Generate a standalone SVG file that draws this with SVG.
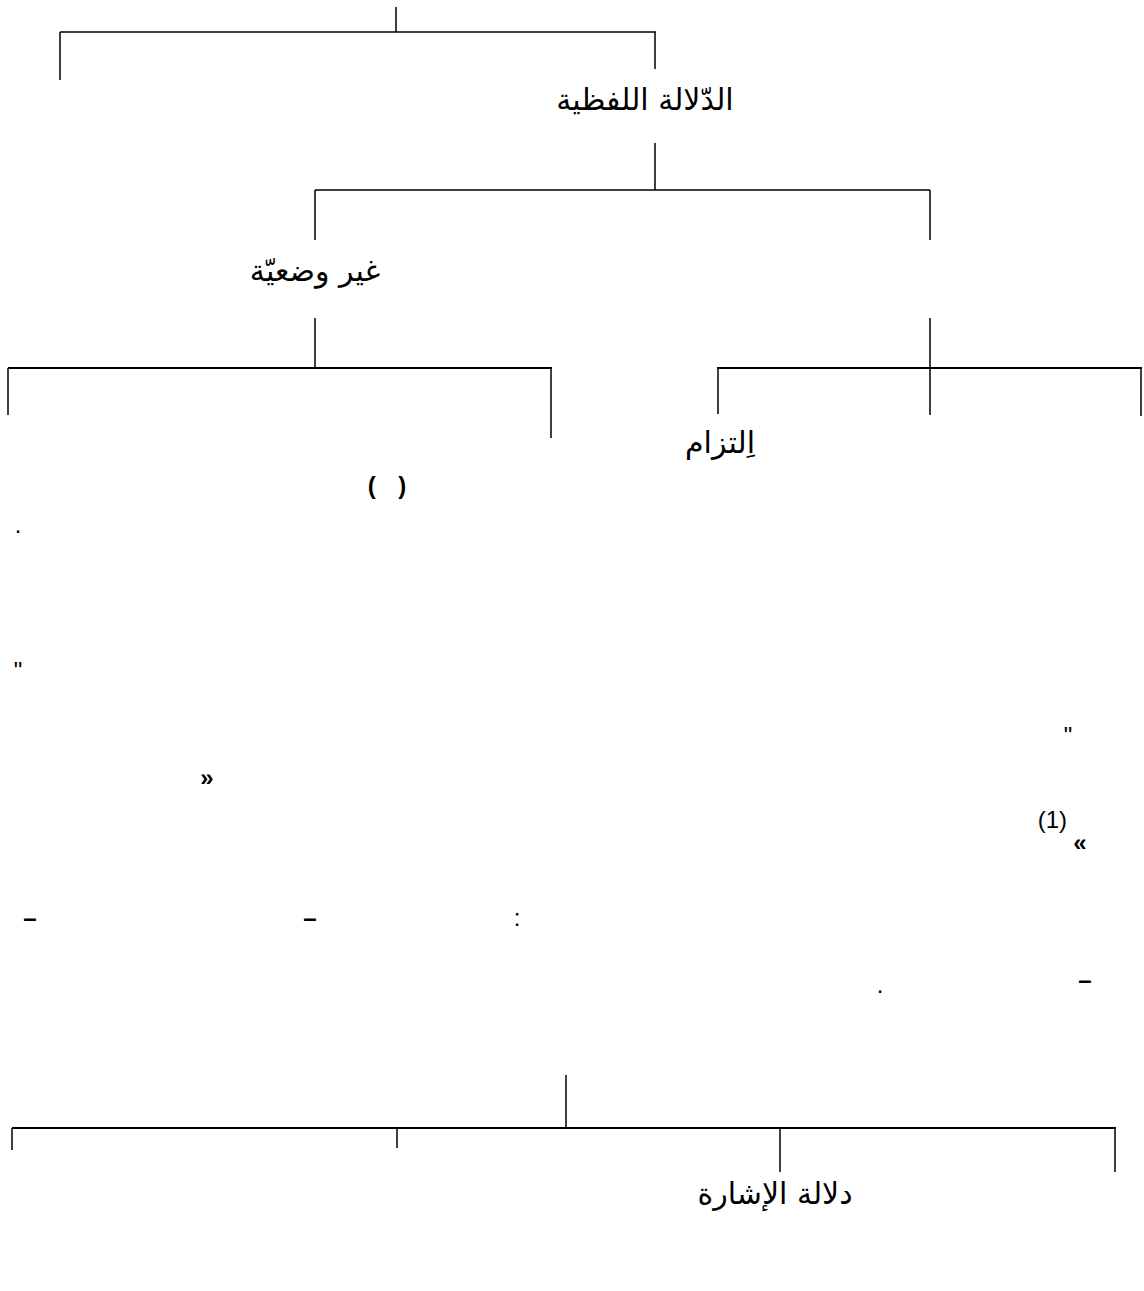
<svg xmlns="http://www.w3.org/2000/svg" width="1144" height="1291" viewBox="0 0 1144 1291">
<style>
.ln{stroke:#000;stroke-width:1.5;fill:none}
.hl{stroke:#000;stroke-width:2;fill:none}
.ar{font-family:"DejaVu Sans","Noto Sans",sans-serif;font-size:30px;fill:#000}
.lt{font-family:"Liberation Sans",Arial,sans-serif;font-size:24px;fill:#000}
.b{font-weight:bold}
</style>
<rect width="1144" height="1291" fill="#fff"/>
<g id="connectors">
<line class="ln" x1="396" y1="7" x2="396" y2="32"/>
<line class="ln" x1="60" y1="32" x2="656" y2="32"/>
<line class="ln" x1="60" y1="32" x2="60" y2="80"/>
<line class="ln" x1="655" y1="32" x2="655" y2="69"/>
<line class="ln" x1="655" y1="143" x2="655" y2="190"/>
<line class="ln" x1="315" y1="190" x2="930" y2="190"/>
<line class="ln" x1="315" y1="190" x2="315" y2="240"/>
<line class="ln" x1="930" y1="190" x2="930" y2="240"/>
<line class="ln" x1="315" y1="318" x2="315" y2="368"/>
<line class="hl" x1="8" y1="368" x2="552" y2="368"/>
<line class="ln" x1="8" y1="368" x2="8" y2="415"/>
<line class="ln" x1="551" y1="368" x2="551" y2="438"/>
<line class="ln" x1="930" y1="318" x2="930" y2="415"/>
<line class="hl" x1="717" y1="368" x2="1142" y2="368"/>
<line class="ln" x1="718" y1="368" x2="718" y2="414"/>
<line class="ln" x1="1141" y1="368" x2="1141" y2="416"/>
<line class="ln" x1="566" y1="1075" x2="566" y2="1128"/>
<line class="hl" x1="12" y1="1128" x2="1116" y2="1128"/>
<line class="ln" x1="12" y1="1128" x2="12" y2="1150"/>
<line class="ln" x1="397" y1="1128" x2="397" y2="1148"/>
<line class="ln" x1="780" y1="1128" x2="780" y2="1172"/>
<line class="ln" x1="1115" y1="1128" x2="1115" y2="1172"/>
</g>
<g id="n-lafziya"><text class="ar" x="645" y="110" text-anchor="middle" direction="rtl">الدّلالة اللفظية</text></g>
<g id="n-ghayr-wadiya"><text class="ar" x="315" y="281" text-anchor="middle" direction="rtl" font-size="32">غير وضعيّة</text></g>
<g id="n-iltizam"><text class="ar" x="720" y="453" text-anchor="middle" direction="rtl">اِلتزام</text></g>
<g id="n-paren"><text class="lt b" x="387" y="494" text-anchor="middle" font-size="32" word-spacing="16">( )</text></g>
<g id="n-ishara"><text class="ar" x="775" y="1204" text-anchor="middle" direction="rtl">دلالة الإشارة</text></g>
<g id="marks">
<text class="lt" x="18" y="533" text-anchor="middle">.</text>
<text class="lt" x="18" y="679" text-anchor="middle">"</text>
<text class="lt" x="1068" y="744" text-anchor="middle">"</text>
<text class="lt b" x="207" y="786" text-anchor="middle" font-size="26">»</text>
<text class="lt" x="1067" y="828" text-anchor="end" font-size="18">(1)</text>
<text class="lt b" x="1080" y="851" text-anchor="middle" font-size="26">«</text>
<text class="lt b" x="30" y="926" text-anchor="middle">–</text>
<text class="lt b" x="310" y="926" text-anchor="middle">–</text>
<text class="lt" x="517" y="926" text-anchor="middle">:</text>
<text class="lt b" x="1085" y="988" text-anchor="middle">–</text>
<text class="lt" x="880" y="993" text-anchor="middle">.</text>
</g>
</svg>
